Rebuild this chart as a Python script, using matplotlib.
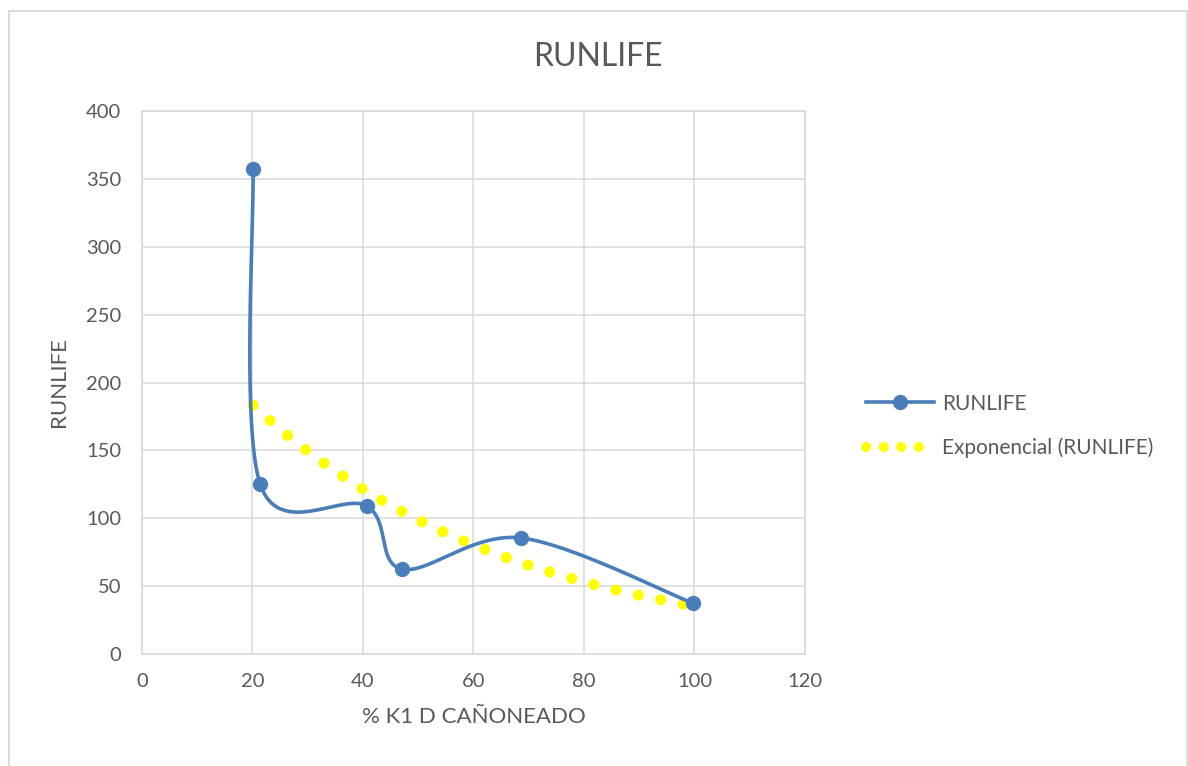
import numpy as np
import matplotlib
matplotlib.use("Agg")
import matplotlib.pyplot as plt
from matplotlib.lines import Line2D
from matplotlib.patches import Rectangle

# datos de la serie
k1_canoneado = [20.1, 21.4, 40.7, 47.1, 68.6, 99.7]
runlife = [357.0, 125.0, 109.0, 62.5, 85.5, 37.5]

x_ticks = [0, 20, 40, 60, 80, 100, 120]
y_ticks = [0, 50, 100, 150, 200, 250, 300, 350, 400]

AZUL = "#4a7ebb"
AMARILLO = "#ffff00"
GRIS_TXT = "#595959"
GRIS_GRID = "#d9d9d9"

plt.rcParams["font.family"] = ["Lato", "DejaVu Sans"]


def curva_suavizada(xs, ys, sx, sy, n=60):
    """Bezier tipo Catmull-Rom (como la linea suavizada de Excel)"""
    p = np.column_stack([np.array(xs) * sx, np.array(ys) * sy])
    pts = []
    m = len(p)
    for i in range(m - 1):
        p0 = p[max(i - 1, 0)]
        p1 = p[i]
        p2 = p[i + 1]
        p3 = p[min(i + 2, m - 1)]
        c1 = p1 + (p2 - p0) / 6.0
        c2 = p2 - (p3 - p1) / 6.0
        t = np.linspace(0, 1, n)[:, None]
        seg = ((1 - t) ** 3) * p1 + 3 * ((1 - t) ** 2) * t * c1 \
            + 3 * (1 - t) * t ** 2 * c2 + t ** 3 * p2
        pts.append(seg if i == 0 else seg[1:])
    pts = np.vstack(pts)
    return pts[:, 0] / sx, pts[:, 1] / sy


W, H = 1188, 766
fig = plt.figure(figsize=(W / 100, H / 100), dpi=100)

# marco del area del grafico
fig.patches.append(Rectangle((9 / W, -0.05), (1187 - 9) / W, 1.05 - 11 / H,
                             transform=fig.transFigure, fill=False,
                             edgecolor=GRIS_GRID, linewidth=1.3))

ax = fig.add_axes([142 / W, 1 - 654 / H, (805 - 142) / W, (654 - 111) / H])
ax.set_xlim(0, 120)
ax.set_ylim(0, 400)
ax.set_xticks(x_ticks)
ax.set_yticks(y_ticks)
ax.grid(True, color=GRIS_GRID, linewidth=1.1)
ax.set_axisbelow(True)
for s in ax.spines.values():
    s.set_color(GRIS_GRID)
    s.set_linewidth(1.1)
ax.tick_params(length=0, labelsize=14.5, colors=GRIS_TXT)
ax.tick_params(axis="y", pad=15)
ax.tick_params(axis="x", pad=14)

# tendencia exponencial (ajuste por minimos cuadrados sobre ln y)
b, ln_a = np.polyfit(k1_canoneado, np.log(runlife), 1)
xt = np.linspace(min(k1_canoneado), max(k1_canoneado), 200)
ax.plot(xt, np.exp(ln_a) * np.exp(b * xt), color=AMARILLO, linewidth=8,
        linestyle=(0, (0.01, 2.05)), dash_capstyle="round", zorder=2)

# serie suavizada
sx = (805 - 142) / 120.0
sy = (654 - 111) / 400.0
xs, ys = curva_suavizada(k1_canoneado, runlife, sx, sy)
ax.plot(xs, ys, color=AZUL, linewidth=2.6, zorder=3, solid_capstyle="round")
ax.plot(k1_canoneado, runlife, "o", color=AZUL, markersize=10, zorder=4)

ax.set_xlabel("% K1 D CAÑONEADO", fontsize=16, color=GRIS_TXT, labelpad=12)
ax.set_ylabel("RUNLIFE", fontsize=16, color=GRIS_TXT, labelpad=12)

fig.text(598 / W, 1 - 57 / H, "RUNLIFE", fontsize=23, color=GRIS_TXT,
         ha="center", va="center")

h1 = Line2D([], [], color=AZUL, linewidth=2.6, marker="o", markersize=10)
h2 = Line2D([], [], color=AMARILLO, linewidth=7.2,
            linestyle=(0, (0.01, 1.75)), dash_capstyle="round")
fig.legend([h1, h2], ["RUNLIFE", "Exponencial (RUNLIFE)"],
           loc="center left", bbox_to_anchor=(866 / W, 1 - 426 / H),
           bbox_transform=fig.transFigure, frameon=False, fontsize=15,
           labelcolor=GRIS_TXT, handlelength=3.27, handletextpad=0.38,
           labelspacing=1.16, borderpad=0, borderaxespad=0)

fig.savefig("out.png", dpi=100)
